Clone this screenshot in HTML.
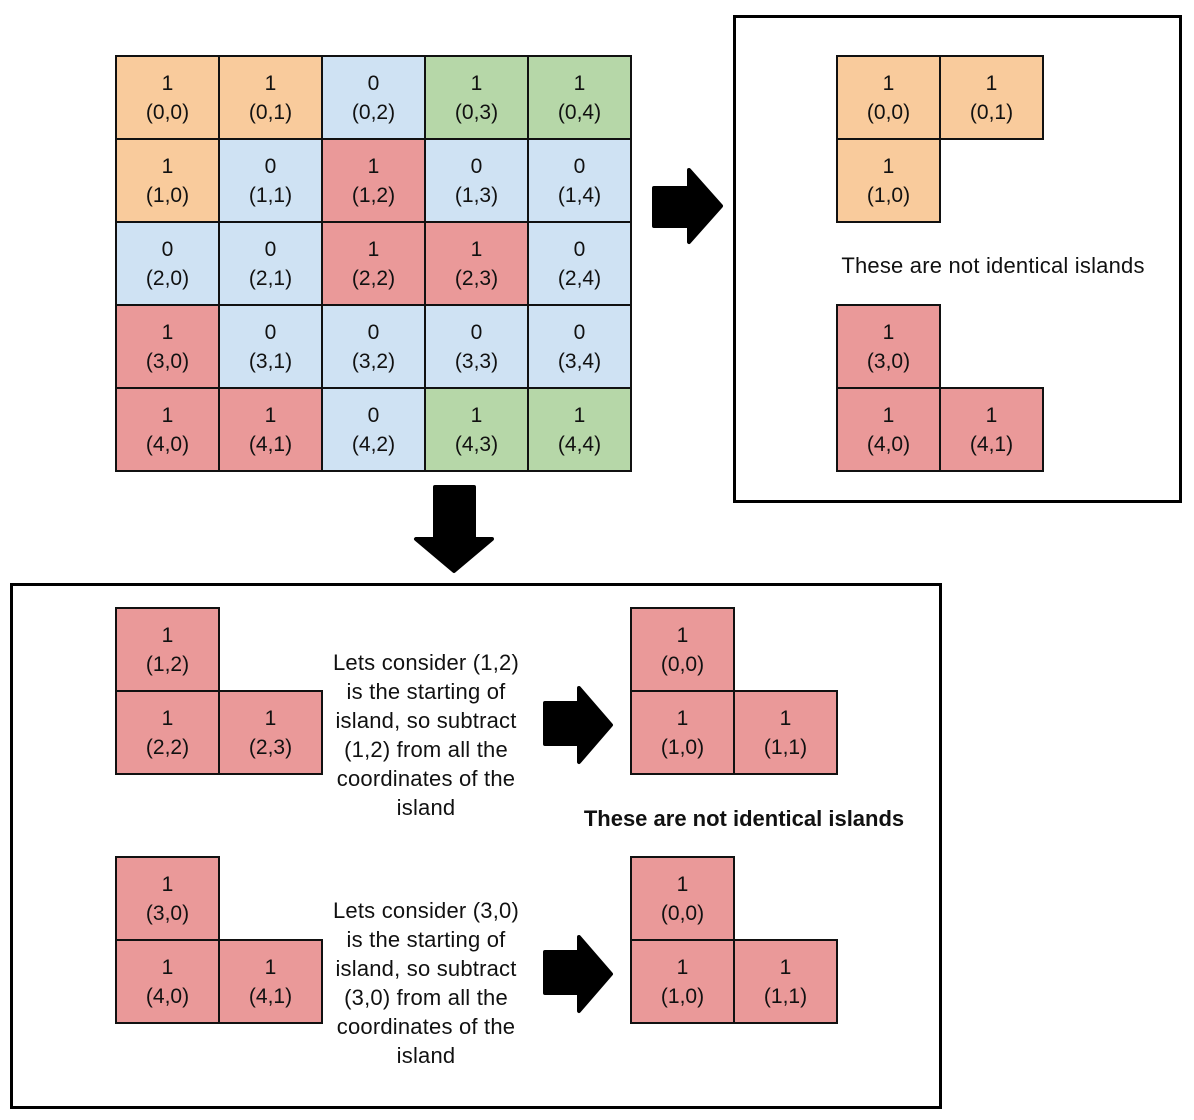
<!DOCTYPE html>
<html><head><meta charset="utf-8"><style>
html,body{margin:0;padding:0;background:#fff;width:1194px;height:1120px;overflow:hidden;position:relative;font-family:"Liberation Sans",Arial,sans-serif;}
.c{position:absolute;width:105px;height:85px;margin:-1px 0 0 -1px;box-sizing:border-box;border:2px solid #111;display:flex;flex-direction:column;align-items:center;justify-content:center;font-size:21px;line-height:29px;color:#111;text-align:center;}
.o{background:#F9CB9C}.b{background:#CFE2F3}.r{background:#EA9999}.g{background:#B6D7A8}
.box{position:absolute;border:3px solid #000;box-sizing:border-box;}
.t{position:absolute;font-size:22px;line-height:29px;text-align:center;color:#111;letter-spacing:0.2px;white-space:nowrap;}
svg{position:absolute;left:0;top:0;}
</style></head><body>
<div class="box" style="left:733px;top:15px;width:449px;height:488px"></div>
<div class="box" style="left:10px;top:583px;width:932px;height:526px"></div>

<div class="c o" style="left:116px;top:56px">1<br>(0,0)</div>
<div class="c o" style="left:219px;top:56px">1<br>(0,1)</div>
<div class="c b" style="left:322px;top:56px">0<br>(0,2)</div>
<div class="c g" style="left:425px;top:56px">1<br>(0,3)</div>
<div class="c g" style="left:528px;top:56px">1<br>(0,4)</div>

<div class="c o" style="left:116px;top:139px">1<br>(1,0)</div>
<div class="c b" style="left:219px;top:139px">0<br>(1,1)</div>
<div class="c r" style="left:322px;top:139px">1<br>(1,2)</div>
<div class="c b" style="left:425px;top:139px">0<br>(1,3)</div>
<div class="c b" style="left:528px;top:139px">0<br>(1,4)</div>

<div class="c b" style="left:116px;top:222px">0<br>(2,0)</div>
<div class="c b" style="left:219px;top:222px">0<br>(2,1)</div>
<div class="c r" style="left:322px;top:222px">1<br>(2,2)</div>
<div class="c r" style="left:425px;top:222px">1<br>(2,3)</div>
<div class="c b" style="left:528px;top:222px">0<br>(2,4)</div>

<div class="c r" style="left:116px;top:305px">1<br>(3,0)</div>
<div class="c b" style="left:219px;top:305px">0<br>(3,1)</div>
<div class="c b" style="left:322px;top:305px">0<br>(3,2)</div>
<div class="c b" style="left:425px;top:305px">0<br>(3,3)</div>
<div class="c b" style="left:528px;top:305px">0<br>(3,4)</div>

<div class="c r" style="left:116px;top:388px">1<br>(4,0)</div>
<div class="c r" style="left:219px;top:388px">1<br>(4,1)</div>
<div class="c b" style="left:322px;top:388px">0<br>(4,2)</div>
<div class="c g" style="left:425px;top:388px">1<br>(4,3)</div>
<div class="c g" style="left:528px;top:388px">1<br>(4,4)</div>

<div class="c o" style="left:837px;top:56px">1<br>(0,0)</div>
<div class="c o" style="left:940px;top:56px">1<br>(0,1)</div>
<div class="c o" style="left:837px;top:139px">1<br>(1,0)</div>
<div class="t" style="left:793px;top:251px;width:400px">These are not identical islands</div>
<div class="c r" style="left:837px;top:305px">1<br>(3,0)</div>
<div class="c r" style="left:837px;top:388px">1<br>(4,0)</div>
<div class="c r" style="left:940px;top:388px">1<br>(4,1)</div>

<div class="c r" style="left:116px;top:608px">1<br>(1,2)</div>
<div class="c r" style="left:116px;top:691px">1<br>(2,2)</div>
<div class="c r" style="left:219px;top:691px">1<br>(2,3)</div>
<div class="t" style="left:306px;top:648px;width:240px">Lets consider (1,2)<br>is the starting of<br>island, so subtract<br>(1,2) from all the<br>coordinates of the<br>island</div>
<div class="c r" style="left:631px;top:608px">1<br>(0,0)</div>
<div class="c r" style="left:631px;top:691px">1<br>(1,0)</div>
<div class="c r" style="left:734px;top:691px">1<br>(1,1)</div>
<div class="t" style="left:544px;top:804px;width:400px;font-weight:bold;letter-spacing:0">These are not identical islands</div>

<div class="c r" style="left:116px;top:857px">1<br>(3,0)</div>
<div class="c r" style="left:116px;top:940px">1<br>(4,0)</div>
<div class="c r" style="left:219px;top:940px">1<br>(4,1)</div>
<div class="t" style="left:306px;top:896px;width:240px">Lets consider (3,0)<br>is the starting of<br>island, so subtract<br>(3,0) from all the<br>coordinates of the<br>island</div>
<div class="c r" style="left:631px;top:857px">1<br>(0,0)</div>
<div class="c r" style="left:631px;top:940px">1<br>(1,0)</div>
<div class="c r" style="left:734px;top:940px">1<br>(1,1)</div>

<svg width="1194" height="1120">
<g fill="#000" stroke="#000" stroke-width="4" stroke-linejoin="round">
<polygon points="654,188 689,188 689,170 721,206 689,242 689,226 654,226"/>
<polygon points="435,487 474,487 474,539 492,539 454,571 416,539 435,539"/>
<polygon points="545,703 579,703 579,688 611,725 579,762 579,744 545,744"/>
<polygon points="545,952 579,952 579,937 611,974 579,1011 579,993 545,993"/>
</g>
</svg>
</body></html>
